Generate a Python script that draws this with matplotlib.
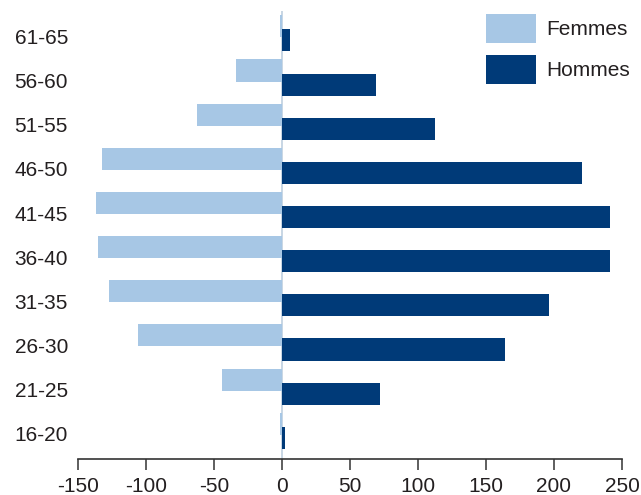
import numpy as np
import matplotlib
matplotlib.use('Agg')
import matplotlib.pyplot as plt

# age groups, bottom to top
ages = ['16-20', '21-25', '26-30', '31-35', '36-40', '41-45', '46-50', '51-55', '56-60', '61-65']
femmes = [-1.6, -43.6, -106, -127, -135, -136.5, -132.5, -62, -34, -1]
hommes = [2.7, 72.5, 164, 196, 241, 241, 220.5, 112.5, 69.5, 6]

light = '#a7c7e5'
dark = '#003a78'
txt = '#231f20'

plt.rcParams['font.family'] = ['Liberation Sans', 'DejaVu Sans']
plt.rcParams['axes.unicode_minus'] = False

fig = plt.figure(figsize=(6.41, 4.95), dpi=100)
ax = fig.add_axes([77.7 / 641, 35.7 / 495, (622 - 77.7) / 641, 448.3 / 495])

y = np.arange(len(ages))
ax.axvline(0, color='#b9cbdd', lw=1.1, zorder=1)
ax.barh(y + 0.16, femmes, height=0.5, color=light, label='Femmes', zorder=2)
ax.barh(y - 0.16, hommes, height=0.5, color=dark, label='Hommes', zorder=2)

ax.set_xlim(-150, 250)
ax.set_ylim(-0.646, 9.507)
ax.set_xticks(range(-150, 251, 50))
ax.set_yticks(y - 0.07)
ax.set_yticklabels(ages)

for s in ['top', 'right', 'left']:
    ax.spines[s].set_visible(False)
ax.spines['bottom'].set_color('#333333')
ax.spines['bottom'].set_linewidth(1.2)
ax.tick_params(axis='x', length=8, width=1.1, color='#333333', pad=4.8,
               labelsize=15, labelcolor=txt)
ax.tick_params(axis='y', length=0, pad=7, labelsize=15, labelcolor=txt)

fig.legend(loc='upper left', bbox_to_anchor=(486 / 641, 1 - 14 / 495),
           frameon=False, fontsize=15, labelcolor=txt,
           handlelength=2.4, handleheight=1.75, handletextpad=0.48,
           labelspacing=0.58, borderpad=0, borderaxespad=0)

fig.savefig('out.png', dpi=100)
